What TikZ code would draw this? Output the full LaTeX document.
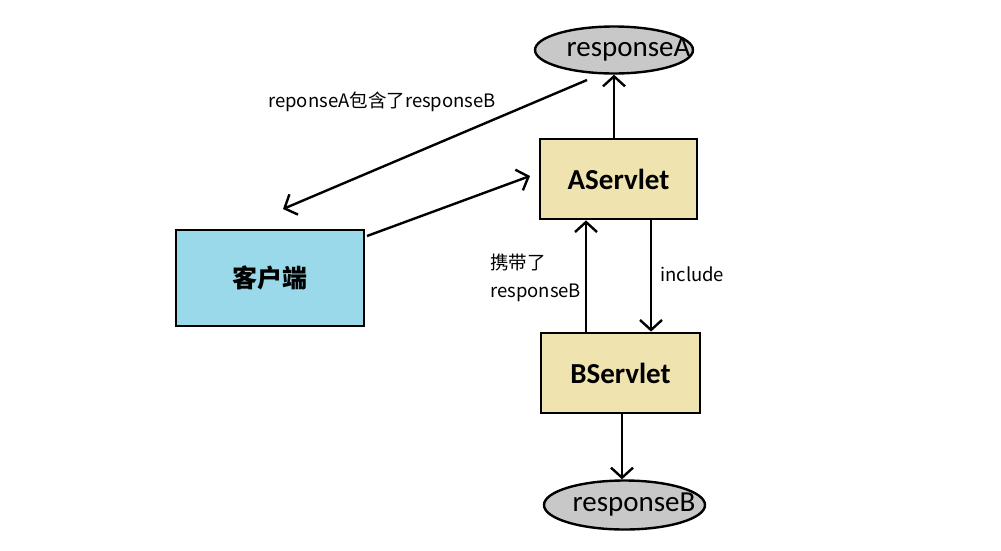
\documentclass[tikz,border=0pt]{standalone}
\usepackage{fontspec}
\setmainfont{Carlito}
\newfontfamily\cjk{Noto Sans CJK SC}
\usetikzlibrary{arrows.meta,shapes.geometric}
\definecolor{ellgray}{RGB}{200,200,200}
\definecolor{beige}{RGB}{239,228,176}
\definecolor{skyb}{RGB}{153,217,234}
\tikzset{
  boxnode/.style={draw=black,line width=2.8pt,fill=beige,inner sep=0pt,font=\fontsize{29}{33}\selectfont\bfseries},
  ellnode/.style={ellipse,draw=black,line width=2.4pt,fill=ellgray,inner sep=0pt},
  elltext/.style={inner sep=0pt,font=\fontsize{29}{33}\selectfont},
  lbl/.style={font=\cjk\fontsize{18.5}{22}\selectfont,inner sep=0pt,anchor=west},
  conn/.style={line width=2.4pt,-{Straight Barb[length=10pt,width=22pt,line width=2.4pt]}}
}
\begin{document}
\begin{tikzpicture}[x=1pt,y=-1pt]
\useasboundingbox (0,0) rectangle (1001,550);
\node[ellnode,minimum width=158pt,minimum height=47pt] (ra) at (614,50) {};
\node[elltext] (rat) at (628.5,50) {responseA};
\node[boxnode,minimum width=157pt,minimum height=80pt] (as) at (618.5,179) {AServlet};
\node[boxnode,fill=skyb,minimum width=188pt,minimum height=96pt,font=\cjk\fontsize{25}{29}\selectfont\bfseries] (cl) at (270,278) {客户端};
\node[boxnode,minimum width=159pt,minimum height=80pt] (bs) at (620.5,373) {BServlet};
\node[ellnode,minimum width=161pt,minimum height=49pt] (rb) at (624.5,505) {};
\node[elltext] (rbt) at (634,505) {responseB};
\coordinate (raL) at (587,80);
\coordinate (clT) at (283,209);
\coordinate (clR) at (367,236);
\coordinate (asL) at (530,176);
\draw[conn] (as.north -| ra.south) -- (ra.south);
\draw[conn] (raL) -- (clT);
\draw[conn] (clR) -- (asL);
\draw[conn] (bs.north -| 586,0) -- (as.south -| 586,0);
\draw[conn] (as.south -| 651,0) -- (bs.north -| 651,0);
\draw[conn] (bs.south -| 622,0) -- (rb.north -| 622,0);
\node[lbl] (l1) at (268,102) {reponseA包含了responseB};
\node[lbl] (l2) at (490,262) {携带了};
\node[lbl] (l3) at (490,293) {responseB};
\node[lbl] (l4) at (660,274) {include};
\end{tikzpicture}
\end{document}
